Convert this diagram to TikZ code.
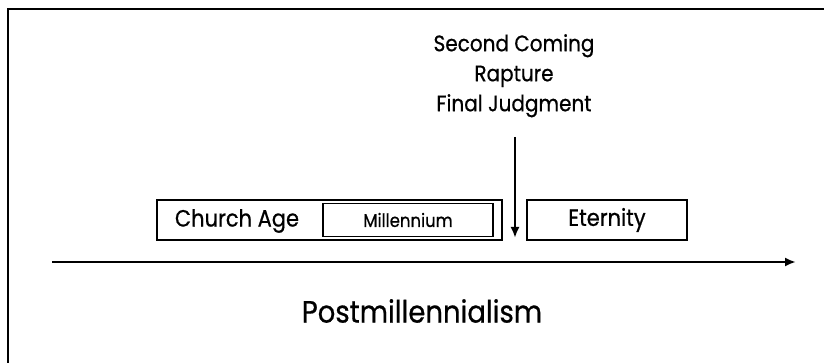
\documentclass[tikz,border=0pt]{standalone}
\usepackage{fontspec}
\usepackage{graphicx}
\setmainfont{Poppins}[FakeBold=0.7]
\usetikzlibrary{arrows.meta}
% slightly taller lettering
\newcommand{\tallword}[1]{\scalebox{1}[1.12]{#1}}
\begin{document}
\begin{tikzpicture}[x=1pt,y=-1pt,
  edge/.style={line width=2.6pt},
  period/.style={draw,line width=2pt,minimum height=40pt,inner sep=0pt},
  label/.style={inner sep=0pt,text=black},
  tip/.style={-{Latex[length=11pt,width=9pt]}}
]
\useasboundingbox (0,0) rectangle (824,363);
% frame (top and left edges)
\draw[edge] (8,363) -- (8,9) -- (824,9);

% periods on the timeline
\node[period,minimum width=345pt] (church) at (329.5,220) {};
\node[draw,line width=1.8pt,minimum width=170pt,minimum height=33pt,inner sep=0pt] (mill) at (408,220) {};
\node[period,minimum width=160pt] (eternity) at (607,220) {};

\node[label,font=\fontsize{21}{21}\selectfont] (churchtxt) at (237,221) {\tallword{Church Age}};
\node[label,font=\fontsize{16.5}{16.5}\selectfont] (milltxt) at (mill.center) {\tallword{Millennium}};
\node[label,font=\fontsize{21}{21}\selectfont] (eterntxt) at (eternity.center) {\tallword{Eternity}};

% events at the return
\node[label,align=center,font=\fontsize{20}{30}\selectfont,anchor=north] (events) at (514,34)
  {\tallword{Second Coming}\\\tallword{Rapture}\\\tallword{Final Judgment}};
\coordinate (drop) at (515,137);
\coordinate (land) at (515,238);
\draw[line width=2.4pt,tip] (drop) -- (land);

% time line
\coordinate (tstart) at (52,262);
\coordinate (tend) at (796,262);
\draw[line width=2.8pt,tip] (tstart) -- (tend);

\node[label,font=\fontsize{27.5}{27.5}\selectfont] (title) at (422,311) {\tallword{Postmillennialism}};
\end{tikzpicture}
\end{document}
